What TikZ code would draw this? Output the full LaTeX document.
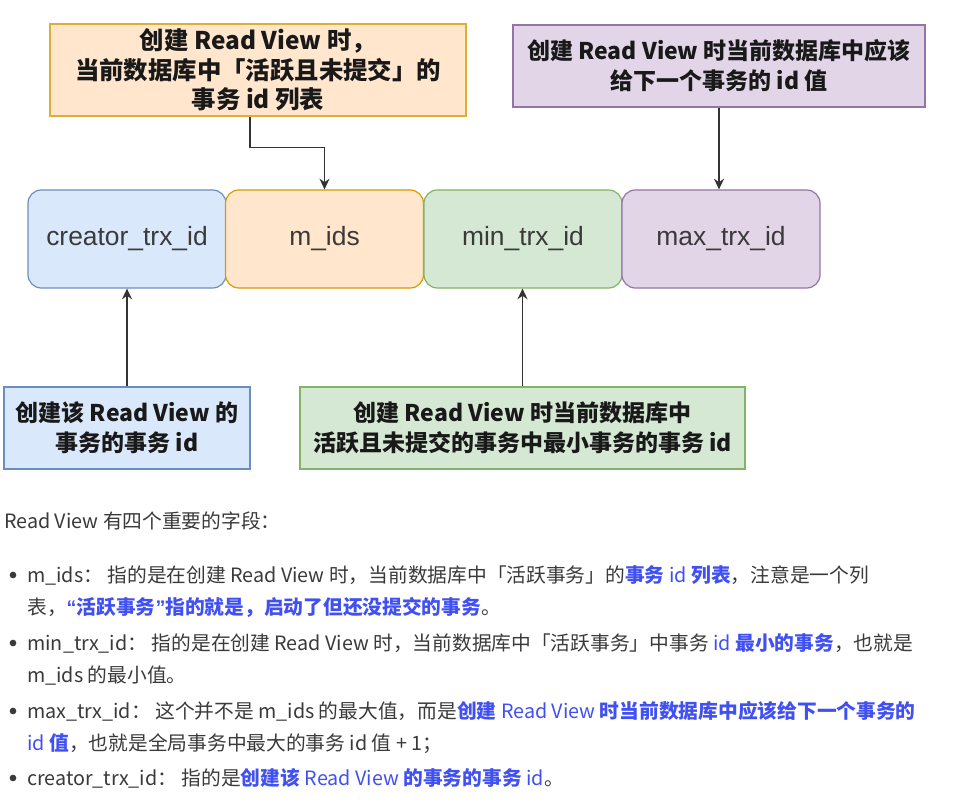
\documentclass[tikz,border=0pt]{standalone}
\usepackage{fontspec}
\setmainfont{Noto Sans CJK SC}
\newfontfamily\fieldfont{Liberation Sans}
\usepackage{xcolor}
\usetikzlibrary{positioning, arrows.meta}
\definecolor{rvblue}{HTML}{DAE8FC}
\definecolor{rvblueline}{HTML}{6C8EBF}
\definecolor{rvorange}{HTML}{FFE6CC}
\definecolor{rvorangeline}{HTML}{D79B00}
\definecolor{rvgreen}{HTML}{D5E8D4}
\definecolor{rvgreenline}{HTML}{82B366}
\definecolor{rvpurple}{HTML}{E1D5E7}
\definecolor{rvpurpleline}{HTML}{9673A6}
\definecolor{rvtext}{HTML}{3A3A3A}
\definecolor{rvhl}{HTML}{4150F2}
\newcommand{\rvmark}[1]{{\color{rvhl}\bfseries #1}}
\newcommand{\rvlatin}[1]{{\mdseries #1}}

\begin{document}
\begin{tikzpicture}[
    x=0.75pt, y=-0.75pt,
    field/.style={draw, rounded corners=10pt, line width=0.9pt, minimum width=148.5pt,
                  minimum height=73.5pt, font=\fieldfont\fontsize{19.8}{22}\selectfont,
                  text=rvtext, inner sep=0pt},
    note/.style={draw, line width=0.9pt, align=center, inner sep=0pt,
                 font=\bfseries\fontsize{17.25}{22.5}\selectfont, text=black!90},
    arr/.style={-{Stealth[length=8pt, width=7.5pt]}, line width=1pt, draw=black!80},
    line/.style={anchor=west, inner sep=0pt, text=rvtext,
                 font=\fontsize{14.8}{16}\selectfont},
    dot/.style={circle, fill=rvtext, inner sep=0pt, minimum size=5pt},
]
\useasboundingbox[fill=white] (0,0) rectangle (962,805);

% fields of the read view
\node[field, fill=rvblue, draw=rvblueline] (creator) at (127, 239) {creator\_trx\_id};
\node[field, fill=rvorange, draw=rvorangeline] (mids) at (324.5, 239) {m\_ids};
\node[field, fill=rvgreen, draw=rvgreenline] (mintrx) at (523, 239) {min\_trx\_id};
\node[field, fill=rvpurple, draw=rvpurpleline] (maxtrx) at (721, 239) {max\_trx\_id};

% notes
\node[note, fill=rvorange, draw=rvorangeline!80, minimum width=312pt, minimum height=69pt,
      font=\bfseries\fontsize{18.3}{22}\selectfont]
  (idsnote) at (258, 70) {创建 Read View 时，\\当前数据库中「活跃且未提交」的\\事务 id 列表};
\node[note, fill=rvpurple, draw=rvpurpleline, minimum width=309pt, minimum height=61.5pt]
  (maxnote) at (719, 66) {创建 Read View 时当前数据库中应该\\给下一个事务的 id 值};
\node[note, fill=rvblue, draw=rvblueline, minimum width=184.5pt, minimum height=61.5pt]
  (creatornote) at (127, 428) {创建该 Read View 的\\事务的事务 id};
\node[note, fill=rvgreen, draw=rvgreenline, minimum width=333.75pt, minimum height=61.5pt]
  (minnote) at (522.5, 428) {创建 Read View 时当前数据库中\\活跃且未提交的事务中最小事务的事务 id};

\draw[arr] ([xshift=-6pt]idsnote.south) -- ++(0,31) -| (mids.north);
\draw[arr] (maxnote.south) -- (maxnote.south |- maxtrx.north);
\draw[arr] (creatornote.north) -- (creator.south);
\draw[arr] (minnote.north) -- (minnote.north |- mintrx.south);

% description below
\node[line] (intro) at (4, 521) {Read View 有四个重要的字段：};
\node[dot] (b1) at (13, 575) {};
\node[line] (l1a) at (27, 575) {m\_ids： 指的是在创建 Read View 时，当前数据库中「活跃事务」的\rvmark{事务 \rvlatin{id} 列表}，注意是一个列};
\node[line] (l1b) at (27, 607) {表，\rvmark{{\fieldfont “}活跃事务{\fieldfont ”}指的就是，启动了但还没提交的事务}。};
\node[dot] (b2) at (13, 643) {};
\node[line] (l2a) at (27, 643) {min\_trx\_id： 指的是在创建 Read View 时，当前数据库中「活跃事务」中事务 \rvmark{\rvlatin{id} 最小的事务}，也就是};
\node[line] (l2b) at (27, 676) {m\_ids 的最小值。};
\node[dot] (b3) at (13, 711) {};
\node[line] (l3a) at (27, 711) {max\_trx\_id： 这个并不是 m\_ids 的最大值，而是\rvmark{创建 \rvlatin{Read View} 时当前数据库中应该给下一个事务的}};
\node[line] (l3b) at (27, 744) {\rvmark{\rvlatin{id} 值}，也就是全局事务中最大的事务 id 值 + 1；};
\node[dot] (b4) at (13, 778) {};
\node[line] (l4a) at (27, 778) {creator\_trx\_id： 指的是\rvmark{创建该 \rvlatin{Read View} 的事务的事务 \rvlatin{id}}。};
\end{tikzpicture}
\end{document}
